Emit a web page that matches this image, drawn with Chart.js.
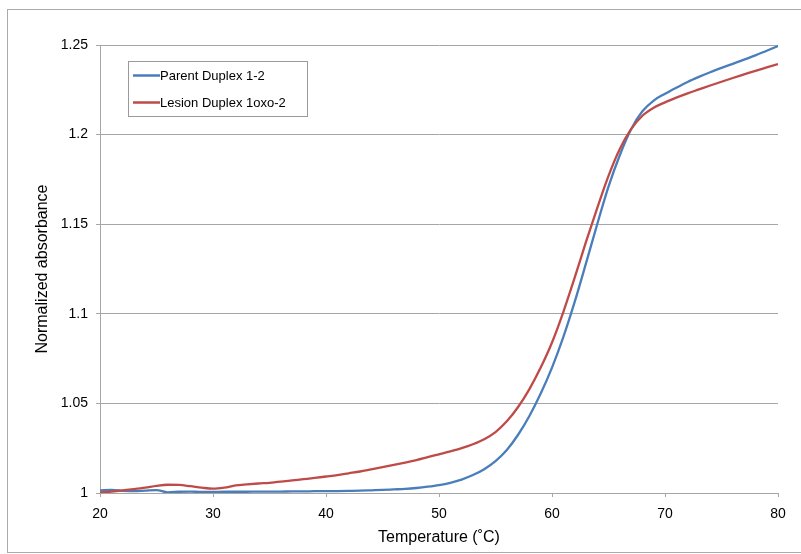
<!DOCTYPE html>
<html>
<head>
<meta charset="utf-8">
<script src="https://cdn.jsdelivr.net/npm/chart.js@4/dist/chart.umd.min.js"></script>
<style>
	body { margin: 0; background: #fff; }
	#frame { position: absolute; left: 7px; top: 9px; width: 900px; height: 542px; border: 1px solid #ababab; }
	#myChart { position: absolute; left: 0; top: 0; }
</style>
</head>
<body>
<div id="frame"></div>
<canvas id="myChart" width="801" height="554"></canvas>
<script>

// temperature in degrees C, one reading per degree
let temps = [20, 21, 22, 23, 24, 25, 26, 27, 28, 29,
	30, 31, 32, 33, 34, 35, 36, 37, 38, 39,
	40, 41, 42, 43, 44, 45, 46, 47, 48, 49,
	50, 51, 52, 53, 54, 55, 56, 57, 58, 59,
	60, 61, 62, 63, 64, 65, 66, 67, 68, 69,
	70, 71, 72, 73, 74, 75, 76, 77, 78, 79, 80];

let parentAbs = [1.0015, 1.0017, 1.0012, 1.0010, 1.0013, 1.0016, 1.0004, 1.0007, 1.0008, 1.0006,
	1.0006, 1.0007, 1.0007, 1.0007, 1.0008, 1.0008, 1.0008, 1.0009, 1.0009, 1.0010,
	1.0010, 1.0011, 1.0012, 1.0013, 1.0015, 1.0017, 1.0020, 1.0023, 1.0028, 1.0035,
	1.0044, 1.0057, 1.0075, 1.0100, 1.0133, 1.0178, 1.0240, 1.0325, 1.0430, 1.0555,
	1.0700, 1.0870, 1.1065, 1.1280, 1.1500, 1.1710, 1.1885, 1.2030, 1.2130, 1.2190,
	1.2228, 1.2262, 1.2294, 1.2322, 1.2348, 1.2372, 1.2395, 1.2418, 1.2442, 1.2468, 1.2494];

let lesionAbs = [1.0004, 1.0008, 1.0015, 1.0022, 1.0030, 1.0040, 1.0046, 1.0045, 1.0038, 1.0030,
	1.0024, 1.0030, 1.0042, 1.0048, 1.0053, 1.0057, 1.0063, 1.0070, 1.0077, 1.0084,
	1.0092, 1.0100, 1.0110, 1.0120, 1.0132, 1.0144, 1.0157, 1.0170, 1.0184, 1.0200,
	1.0216, 1.0232, 1.0250, 1.0272, 1.0300, 1.0340, 1.0400, 1.0480, 1.0580, 1.0700,
	1.0840, 1.1010, 1.1200, 1.1400, 1.1590, 1.1770, 1.1920, 1.2030, 1.2105, 1.2150,
	1.2180, 1.2206, 1.2230, 1.2252, 1.2274, 1.2295, 1.2316, 1.2336, 1.2356, 1.2375, 1.2394];

let seriesNames = ['Parent Duplex 1-2', 'Lesion Duplex 1oxo-2'];
let seriesColors = ['#4a7ebb', '#be4b48'];

let xTitle = 'Temperature (\u02DAC)';
let yTitle = 'Normalized absorbance';

const fontFam = '"Liberation Sans", Arial, Helvetica, sans-serif';
const gridGray = '#a6a6a6';

function toPoints(ys) {
	return temps.map((t, i) => ({ x: t, y: ys[i] }));
}

// boxed legend like the excel one, drawn after the chart
const boxLegend = {
	id: 'boxLegend',
	afterDraw(chart) {
		const ctx = chart.ctx;
		ctx.save();
		ctx.strokeStyle = '#9a9a9a';
		ctx.lineWidth = 1;
		ctx.strokeRect(128.5, 61.5, 179, 55);
		ctx.font = '13px ' + fontFam;
		ctx.textBaseline = 'middle';
		ctx.fillStyle = '#000';
		chart.data.datasets.forEach((ds, i) => {
			let y = 75.5 + i * 27;
			ctx.strokeStyle = ds.borderColor;
			ctx.lineWidth = 2.5;
			ctx.beginPath();
			ctx.moveTo(133, y);
			ctx.lineTo(160, y);
			ctx.stroke();
			ctx.fillText(ds.label, 160, y + 0.5);
		});
		ctx.restore();
	}
};

function chartIt() {
	const ctx = document.getElementById('myChart').getContext('2d');
	let myChart = new Chart(ctx, {
		type: 'line',
		data: {
			datasets: [{
				label: seriesNames[0],
				data: toPoints(parentAbs),
				borderColor: seriesColors[0],
				borderWidth: 2.3,
				pointRadius: 0,
				cubicInterpolationMode: 'monotone',
				order: 1
			}, {
				label: seriesNames[1],
				data: toPoints(lesionAbs),
				borderColor: seriesColors[1],
				borderWidth: 2.3,
				pointRadius: 0,
				cubicInterpolationMode: 'monotone',
				order: 0
			}]
		},
		options: {
			responsive: false,
			animation: false,
			layout: { padding: { top: 45, right: 23, left: 0, bottom: 0 } },
			plugins: {
				legend: { display: false },
				tooltip: { enabled: false }
			},
			scales: {
				x: {
					type: 'linear',
					min: 20,
					max: 80,
					afterFit: (s) => { s.height = 61; },
					ticks: { stepSize: 10, padding: 9, color: '#000', font: { family: fontFam, size: 14 } },
					grid: { drawOnChartArea: false, tickLength: 4, color: gridGray },
					border: { color: gridGray },
					title: { display: true, text: xTitle, color: '#000', padding: { top: 0, bottom: 7 }, font: { family: fontFam, size: 16 } }
				},
				y: {
					min: 1,
					max: 1.25,
					afterFit: (s) => { s.width = 100; },
					ticks: {
						stepSize: 0.05,
						padding: 8,
						color: '#000',
						font: { family: fontFam, size: 14 },
						callback: (v) => String(Number(v.toFixed(2)))
					},
					grid: { tickLength: 4, color: gridGray },
					border: { color: gridGray },
					title: { display: true, text: yTitle, color: '#000', padding: { top: 33, bottom: 0 }, font: { family: fontFam, size: 16 } }
				}
			}
		},
		plugins: [boxLegend]
	});
	return myChart;
}

chartIt();
</script>
</body>
</html>
